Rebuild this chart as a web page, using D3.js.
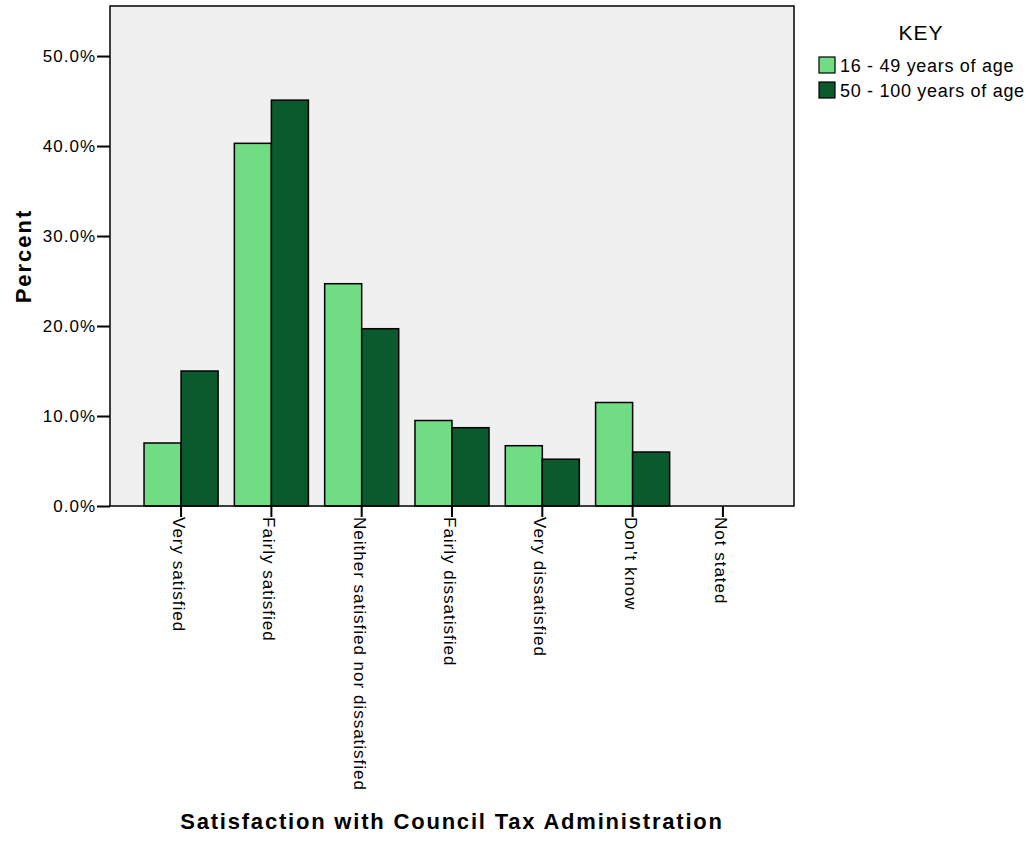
<!DOCTYPE html>
<html><head><meta charset="utf-8">
<script src="https://cdn.jsdelivr.net/npm/d3@7/dist/d3.min.js"></script>
<style>
body{margin:0;background:#fff;}
text{font-family:"Liberation Sans",Arial,sans-serif;fill:#000;}
</style></head><body>
<svg id="chart" width="1033" height="841"></svg>
<script>
const categories = ["Very satisfied","Fairly satisfied","Neither satisfied nor dissatisfied","Fairly dissatisfied","Very dissatisfied","Don't know","Not stated"];
const seriesNames = ["16 - 49 years of age","50 - 100 years of age"];
const young = [7.0, 40.3, 24.7, 9.5, 6.7, 11.5, 0];
const old = [15.0, 45.1, 19.7, 8.7, 5.2, 6.0, 0];
const yTicks = [0,10,20,30,40,50];
const colors = ["#70DC84","#0B5A2E"];

const svg = d3.select("#chart");
const L=110, R=794, T=6, B=506;
const x = d3.scaleBand().domain(categories).range([L,R]).paddingInner(0.18).paddingOuter(0.377);
const xs = d3.scaleBand().domain([0,1]).range([0,x.bandwidth()]);
const y = d3.scaleLinear().domain([0,55.56]).range([B,T]);

svg.append("rect").attr("x",L).attr("y",T).attr("width",R-L).attr("height",B-T).attr("fill","#F0F0F0");

const data = [young, old];
const g = svg.append("g");
categories.forEach((c,i)=>{
  data.forEach((arr,s)=>{
    if(arr[i]<=0) return;
    g.append("rect").attr("x",x(c)+xs(s)).attr("y",y(arr[i])).attr("width",xs.bandwidth()).attr("height",y(0)-y(arr[i]))
     .attr("fill",colors[s]).attr("stroke","#000").attr("stroke-width",1.5);
  });
});

svg.append("rect").attr("x",L).attr("y",T).attr("width",R-L).attr("height",B-T).attr("fill","none").attr("stroke","#000").attr("stroke-width",1.5);

const yAxis = svg.append("g").attr("transform",`translate(${L},0)`)
  .call(d3.axisLeft(y).tickValues(yTicks).tickSize(13).tickPadding(1).tickFormat(d=>d.toFixed(1)+"%"));
yAxis.select(".domain").remove();
yAxis.selectAll("line").attr("stroke","#000").attr("stroke-width",2);
yAxis.selectAll("text").attr("font-size","17px").attr("letter-spacing","1px").attr("font-family","Liberation Sans, Arial, sans-serif");

const xAxis = svg.append("g").attr("transform",`translate(0,${B})`)
  .call(d3.axisBottom(x).tickSize(11).tickSizeOuter(0));
xAxis.select(".domain").remove();
xAxis.selectAll("line").attr("stroke","#000").attr("stroke-width",2);
xAxis.selectAll("text").attr("font-size","17px").attr("letter-spacing","1px").attr("font-family","Liberation Sans, Arial, sans-serif")
  .attr("transform","rotate(90)").attr("text-anchor","start").attr("x",11).attr("y",0).attr("dy","0.47em");

svg.append("text").attr("transform","translate(31,256) rotate(-90)").attr("text-anchor","middle")
  .attr("font-size","22px").attr("letter-spacing","2px").attr("font-weight","bold").text("Percent");
svg.append("text").attr("x",452).attr("y",829).attr("text-anchor","middle")
  .attr("font-size","22px").attr("letter-spacing","1.8px").attr("font-weight","bold").text("Satisfaction with Council Tax Administration");

svg.append("text").attr("x",921).attr("y",40).attr("text-anchor","middle").attr("font-size","21px").attr("letter-spacing","1px").text("KEY");
seriesNames.forEach((n,i)=>{
  const yy = 57 + i*25;
  svg.append("rect").attr("x",819).attr("y",yy).attr("width",16).attr("height",16).attr("fill",colors[i]).attr("stroke","#000").attr("stroke-width",1.2);
  svg.append("text").attr("x",840).attr("y",yy+15).attr("font-size","18px").attr("letter-spacing","0.7px").text(n);
});
</script></body></html>
